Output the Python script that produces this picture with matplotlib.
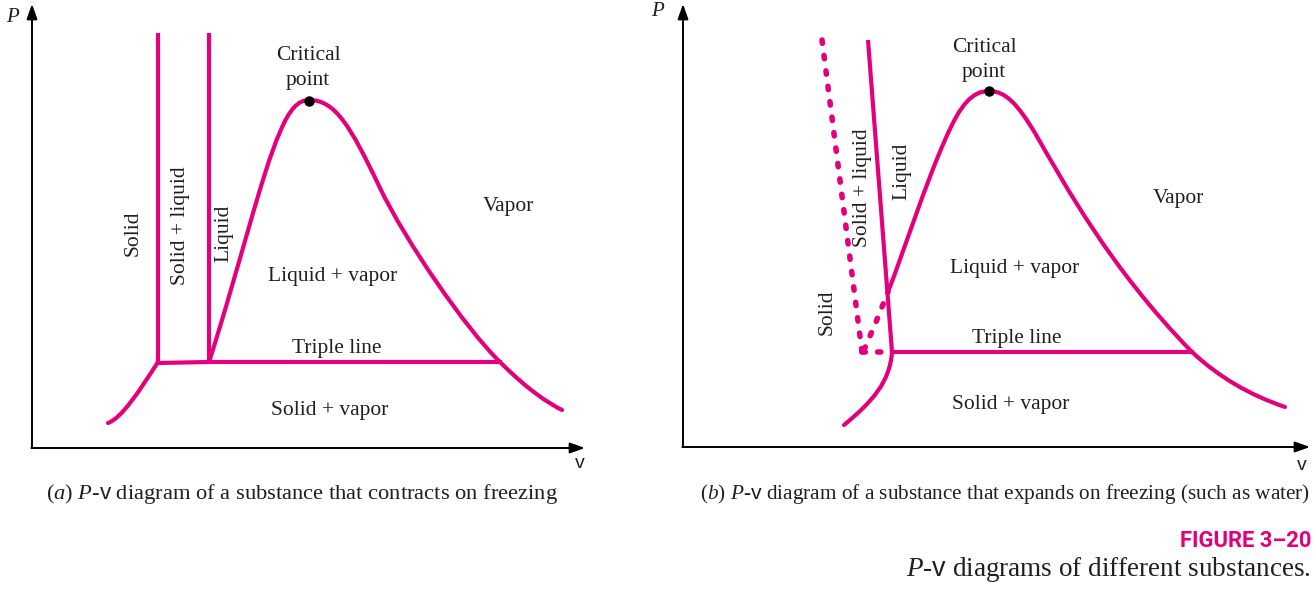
import matplotlib
matplotlib.use("Agg")
import matplotlib.pyplot as plt
from matplotlib.path import Path
from matplotlib.patches import PathPatch

plt.rcParams["mathtext.fontset"] = "custom"
plt.rcParams["mathtext.rm"] = "Liberation Serif"
plt.rcParams["mathtext.it"] = "Liberation Serif:italic"
plt.rcParams["mathtext.sf"] = "Liberation Sans"

MAG = "#E4007C"
INK = "#231F20"
SERIF = ["Liberation Serif", "DejaVu Serif"]

# ---------------- data (diagram coordinates, figure pixel space) ----------------
# panel (a): substance that contracts on freezing
a_axis_origin = (32, 448)
a_axis_ends = (585, 4)
a_solid_line_x = [158, 158]
a_solid_line_y = [33, 362]
a_liquid_line_x = [209, 209]
a_liquid_line_y = [33, 362]
a_triple_x = [158, 209, 500]
a_triple_y = [363, 362, 362]
a_sublim = [(158, 362), (140, 390), (122, 418), (108, 423)]
a_dome = [(209, 362), (238, 272), (262, 172), (280, 132),
          (289, 110), (298, 100), (309, 100),
          (335, 100), (350, 125), (380, 188),
          (405, 240), (465, 328), (500, 362),
          (528, 390), (548, 403), (562, 410)]
a_critical = (309, 101)

# panel (b): substance that expands on freezing
b_axis_origin = (683, 447)
b_axis_ends = (1310, 4)
b_fusion_x = [868, 892]
b_fusion_y = [40, 352]
b_triple_x = [892, 1192]
b_triple_y = [352, 352]
b_sublim = [(892, 352), (890, 382), (872, 402), (844, 425)]
b_dome = [(888, 292), (905, 248), (925, 185), (945, 140),
          (960, 105), (972, 91), (989, 91),
          (1006, 91), (1018, 105), (1035, 133),
          (1065, 185), (1110, 268), (1192, 352),
          (1220, 378), (1250, 395), (1285, 407)]
b_critical = (989, 91)
b_dot_solid_x = [822, 862]
b_dot_solid_y = [40, 352]
b_dot_base_x = [862, 892]
b_dot_base_y = [352, 352]
b_dot_ext_x = [864, 876, 888]
b_dot_ext_y = [350, 322, 292]

# region labels: (text, x, y, rotation)
a_labels = [("Critical", 308, 56, 0), ("point", 308, 80, 0),
            ("Vapor", 508, 206, 0), ("Liquid + vapor", 333, 277, 0),
            ("Triple line", 337, 348, 0), ("Solid + vapor", 330, 410, 0),
            ("Solid", 133, 233, 90), ("Solid + liquid", 181, 226, 90),
            ("Liquid", 224, 233, 90)]
b_labels = [("Critical", 984, 48, 0), ("point", 984, 72, 0),
            ("Vapor", 1178, 198, 0), ("Liquid + vapor", 1015, 268, 0),
            ("Triple line", 1017, 338, 0), ("Solid + vapor", 1011, 405, 0),
            ("Solid", 827, 312, 90), ("Solid + liquid", 862, 188, 90),
            ("Liquid", 902, 171, 90)]

caption_a = r"($\mathit{a}$) $\mathit{P}$-$\mathsf{v}$ diagram of a substance that contracts on freezing"
caption_b = r"($\mathit{b}$) $\mathit{P}$-$\mathsf{v}$ diagram of a substance that expands on freezing (such as water)"
fig_number = "FIGURE 3\u201320"
fig_title = r"$\mathit{P}$-$\mathsf{v}$ diagrams of different substances."

# ---------------- drawing ----------------
fig = plt.figure(figsize=(13.13, 5.91), dpi=100)
ax = fig.add_axes([0, 0, 1, 1])
ax.set_xlim(0, 1313)
ax.set_ylim(591, 0)
ax.axis("off")

LW = 3.0


def bezier(points, **kw):
    codes = [Path.MOVETO] + [Path.CURVE4] * (len(points) - 1)
    ax.add_patch(PathPatch(Path(points, codes), fill=False, edgecolor=MAG,
                           lw=LW, capstyle="round", joinstyle="round", **kw))


def axes_arrows(origin, ends):
    ox, oy = origin
    ex, ey = ends
    style = dict(arrowstyle="-|>,head_length=0.9,head_width=0.32",
                 color="black", lw=1.4, shrinkA=0, shrinkB=0)
    ax.annotate("", xy=(ox, ey), xytext=(ox, oy), arrowprops=style)
    ax.annotate("", xy=(ex, oy), xytext=(ox - 0.7, oy), arrowprops=style)


# panel (a)
axes_arrows(a_axis_origin, a_axis_ends)
ax.plot(a_solid_line_x, a_solid_line_y, color=MAG, lw=LW, solid_capstyle="butt")
ax.plot(a_liquid_line_x, a_liquid_line_y, color=MAG, lw=LW, solid_capstyle="butt")
ax.plot(a_triple_x, a_triple_y, color=MAG, lw=LW, solid_joinstyle="round")
bezier(a_sublim)
bezier(a_dome)
ax.plot(*a_critical, "o", color="black", ms=6.5, zorder=5)

# panel (b)
axes_arrows(b_axis_origin, b_axis_ends)
ax.plot(b_fusion_x, b_fusion_y, color=MAG, lw=LW, solid_capstyle="butt")
ax.plot(b_triple_x, b_triple_y, color=MAG, lw=LW)
bezier(b_sublim)
bezier(b_dome)
dots = dict(color=MAG, lw=4.0, linestyle=(0, (0.6, 2.2)), dash_capstyle="round")
ax.plot(b_dot_solid_x, b_dot_solid_y, **dots)
ax.plot(b_dot_base_x, b_dot_base_y, **dots)
ax.plot(b_dot_ext_x, b_dot_ext_y, **dots)
ax.plot(*b_critical, "o", color="black", ms=6.5, zorder=5)

for txt, x, y, rot in a_labels + b_labels:
    ax.text(x, y, txt, family=SERIF, fontsize=15.5, color=INK, rotation=rot,
            ha="center", va="center", rotation_mode="anchor")

# axis letters
for x, y in [(12, 18), (657, 12)]:
    ax.text(x, y, "P", family=SERIF, style="italic", fontsize=15, color=INK,
            ha="center", va="center")
for x, y in [(580, 463), (1302, 466)]:
    ax.text(x, y, "v", family=["Liberation Sans", "DejaVu Sans"], fontsize=14,
            color=INK, ha="center", va="center")

# captions
ax.text(46, 494, caption_a, family=SERIF, fontsize=16.2, color=INK,
        ha="left", va="center")
ax.text(1310, 494, caption_b, family=SERIF, fontsize=15.3, color=INK,
        ha="right", va="center")

ax.text(1311, 541, fig_number, family=["Roboto", "DejaVu Sans"],
        fontweight="bold", fontsize=15.8, color=MAG, ha="right", va="center")
ax.text(1311, 570, fig_title, family=SERIF, fontsize=19.5, color=INK,
        ha="right", va="center")

fig.savefig("out.png", dpi=100)
